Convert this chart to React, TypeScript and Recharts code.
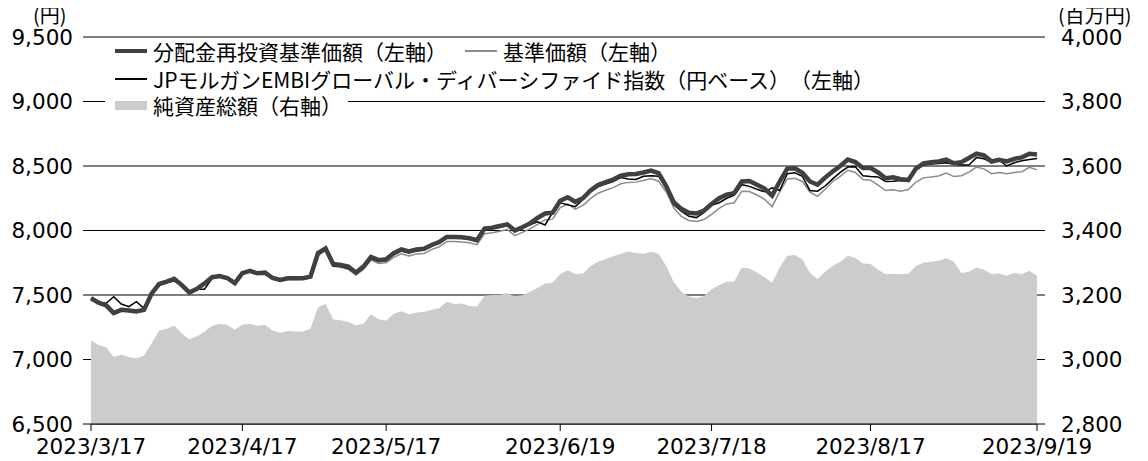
import { ComposedChart, Area, Line, XAxis, YAxis, CartesianGrid } from 'recharts'

const FONT = '"DejaVu Sans", "Noto Sans CJK JP", sans-serif'
const JP_FONT = '"Noto Sans CJK JP", sans-serif'

// Japanese business days 2023/3/17 - 2023/9/19
const START = '2023-03-17'
const END = '2023-09-19'
const HOLIDAYS = ['2023-03-21', '2023-05-03', '2023-05-04', '2023-05-05', '2023-07-17', '2023-08-11', '2023-09-18']

function businessDays() {
  const out: string[] = []
  const d = new Date(START + 'T00:00:00Z')
  const end = new Date(END + 'T00:00:00Z')
  while (d <= end) {
    const iso = d.toISOString().slice(0, 10)
    const wd = d.getUTCDay()
    if (wd !== 0 && wd !== 6 && !HOLIDAYS.includes(iso)) {
      out.push(`${d.getUTCFullYear()}/${d.getUTCMonth() + 1}/${d.getUTCDate()}`)
    }
    d.setUTCDate(d.getUTCDate() + 1)
  }
  return out
}

const DATES = businessDays()
const X_TICKS = ['2023/3/17', '2023/4/17', '2023/5/17', '2023/6/19', '2023/7/18', '2023/8/17', '2023/9/19']
const LEFT_TICKS = [6500, 7000, 7500, 8000, 8500, 9000, 9500]
const RIGHT_TICKS = [2800, 3000, 3200, 3400, 3600, 3800, 4000]

// 分配金再投資基準価額 (円)
const REINVEST = [
  7475, 7440, 7420, 7360, 7385, 7380, 7372, 7385, 7510, 7585,
  7603, 7625, 7577, 7520, 7548, 7590, 7638, 7647, 7632, 7592,
  7670, 7688, 7668, 7673, 7632, 7616, 7629, 7629, 7630, 7642,
  7825, 7860, 7740, 7733, 7720, 7675, 7720, 7795, 7770, 7777,
  7825, 7854, 7838, 7852, 7858, 7888, 7910, 7950, 7950, 7947,
  7940, 7925, 8015, 8022, 8035, 8048, 8000, 8025, 8055, 8097,
  8132, 8138, 8230, 8258, 8222, 8250, 8310, 8352, 8375, 8395,
  8425, 8436, 8438, 8450, 8465, 8445, 8345, 8220, 8168, 8138,
  8132, 8155, 8205, 8250, 8278, 8290, 8380, 8384, 8355, 8325,
  8270, 8380, 8480, 8483, 8448, 8380, 8355, 8410, 8458, 8500,
  8550, 8530, 8485, 8485, 8450, 8405, 8412, 8398, 8391, 8480,
  8520, 8530, 8535, 8550, 8522, 8530, 8562, 8595, 8582, 8535,
  8548, 8535, 8555, 8567, 8595, 8590,
]

// 基準価額 (円)
const NAV = [
  7472, 7437, 7417, 7357, 7382, 7377, 7369, 7382, 7507, 7582,
  7600, 7622, 7574, 7517, 7545, 7587, 7635, 7644, 7629, 7589,
  7662, 7680, 7660, 7665, 7624, 7608, 7621, 7621, 7622, 7634,
  7812, 7846, 7722, 7715, 7700, 7655, 7698, 7772, 7745, 7750,
  7792, 7820, 7802, 7818, 7822, 7852, 7874, 7914, 7914, 7911,
  7905, 7890, 7975, 7982, 7995, 8008, 7960, 7985, 8013, 8047,
  8082, 8088, 8178, 8205, 8165, 8195, 8247, 8289, 8312, 8332,
  8362, 8373, 8375, 8387, 8402, 8382, 8300, 8175, 8110, 8078,
  8070, 8085, 8125, 8172, 8206, 8215, 8305, 8302, 8275, 8242,
  8185, 8300, 8400, 8405, 8380, 8298, 8265, 8320, 8380, 8420,
  8467, 8450, 8395, 8390, 8352, 8310, 8316, 8305, 8318, 8375,
  8408, 8414, 8422, 8446, 8418, 8425, 8452, 8492, 8478, 8440,
  8450, 8440, 8450, 8456, 8490, 8470,
]

// JPモルガンEMBIグローバル・ディバーシファイド指数（円ベース）
const EMBI = [
  7475, 7440, 7436, 7487, 7430, 7409, 7448, 7397, 7500, 7577,
  7595, 7610, 7570, 7515, 7545, 7545, 7630, 7640, 7625, 7595,
  7660, 7680, 7660, 7665, 7625, 7612, 7625, 7625, 7625, 7640,
  7810, 7850, 7725, 7720, 7705, 7665, 7710, 7780, 7760, 7765,
  7812, 7840, 7825, 7840, 7850, 7880, 7900, 7940, 7942, 7940,
  7932, 7915, 8005, 8015, 8025, 8040, 7990, 8015, 8045, 8068,
  8043, 8140, 8215, 8200, 8185, 8240, 8300, 8340, 8360, 8380,
  8410, 8400, 8395, 8420, 8425, 8420, 8330, 8200, 8150, 8110,
  8100, 8140, 8195, 8215, 8250, 8275, 8355, 8342, 8320, 8300,
  8330, 8310, 8440, 8448, 8420, 8310, 8305, 8345, 8400, 8450,
  8492, 8495, 8425, 8418, 8415, 8380, 8382, 8388, 8386, 8470,
  8508, 8516, 8520, 8525, 8514, 8508, 8508, 8565, 8556, 8528,
  8545, 8500, 8525, 8540, 8550, 8558,
]

// 純資産総額 (百万円)
const ASSETS = [
  3060, 3045, 3038, 3008, 3015, 3008, 3004, 3012, 3050, 3090,
  3095, 3105, 3081, 3063, 3072, 3086, 3105, 3110, 3108, 3092,
  3108, 3110, 3105, 3107, 3090, 3083, 3088, 3087, 3087, 3095,
  3162, 3172, 3124, 3122, 3116, 3106, 3110, 3140, 3125, 3120,
  3142, 3150, 3140, 3146, 3147, 3154, 3159, 3179, 3172, 3174,
  3166, 3164, 3198, 3200, 3200, 3206, 3196, 3199, 3210, 3222,
  3236, 3238, 3265, 3277, 3264, 3267, 3290, 3303, 3312, 3320,
  3328, 3335, 3330, 3328, 3334, 3328, 3290, 3240, 3210, 3195,
  3190, 3197, 3218, 3230, 3241, 3242, 3285, 3282, 3270, 3255,
  3238, 3285, 3322, 3324, 3310, 3268, 3250, 3272, 3290, 3303,
  3322, 3315, 3298, 3296, 3278, 3264, 3266, 3264, 3266, 3290,
  3300, 3303, 3306, 3314, 3304, 3268, 3272, 3285, 3278, 3265,
  3267, 3260, 3268, 3264, 3275, 3260,
]

const data = DATES.map((date, i) => ({
  date,
  reinvest: REINVEST[i],
  nav: NAV[i],
  embi: EMBI[i],
  assets: ASSETS[i],
}))

const fmt = (v: number) => v.toLocaleString('en-US')
const tickStyle = { fontSize: 21.5, fill: '#000', fontFamily: FONT }

function LegendItem({ left, top, children, bg }: { left: number; top: number; children: any; bg?: boolean }) {
  return (
    <div
      style={{
        position: 'absolute',
        left,
        top,
        height: 24,
        lineHeight: '24px',
        display: 'flex',
        alignItems: 'center',
        background: bg ? '#fff' : 'transparent',
        paddingRight: 6,
        whiteSpace: 'nowrap',
      }}
    >
      {children}
    </div>
  )
}

function Swatch({ kind }: { kind: 'thick' | 'thin' | 'grey' | 'area' }) {
  const base = { width: 32, marginLeft: 10, marginRight: 6 }
  if (kind === 'area') return <div style={{ ...base, height: 9, background: '#cccccc' }} />
  const h = kind === 'thick' ? 4.5 : 1.5
  const c = kind === 'thick' ? '#404040' : kind === 'grey' ? '#8c8c8c' : '#000'
  return <div style={{ ...base, height: h, background: c }} />
}

export default function App() {
  return (
    <div style={{ position: 'relative', width: 1132, height: 453, fontFamily: JP_FONT }}>
      <ComposedChart width={1132} height={453} data={data} margin={{ top: 29, right: 0, bottom: 8, left: 0 }}>
        <CartesianGrid yAxisId="left" vertical={false} stroke="#000" strokeWidth={1} />
        <Area
          yAxisId="right"
          dataKey="assets"
          type="linear"
          fill="#cccccc"
          fillOpacity={1}
          stroke="none"
          isAnimationActive={false}
        />
        <Line yAxisId="left" dataKey="nav" type="linear" stroke="#8c8c8c" strokeWidth={1.5} dot={false} isAnimationActive={false} />
        <Line yAxisId="left" dataKey="embi" type="linear" stroke="#000" strokeWidth={1.5} dot={false} isAnimationActive={false} />
        <Line yAxisId="left" dataKey="reinvest" type="linear" stroke="#404040" strokeWidth={4.5} dot={false} isAnimationActive={false} />
        <XAxis
          dataKey="date"
          scale="point"
          ticks={X_TICKS}
          interval={0}
          height={29}
          tickSize={7}
          tickMargin={8}
          tick={tickStyle}
          axisLine={{ stroke: '#000' }}
          tickLine={{ stroke: '#000' }}
        />
        <YAxis
          yAxisId="left"
          domain={[6500, 9500]}
          ticks={LEFT_TICKS}
          width={83}
          tickSize={8}
          tickMargin={10}
          axisLine={false}
          tickLine={{ stroke: '#000' }}
          tick={tickStyle}
          tickFormatter={fmt}
        />
        <YAxis
          yAxisId="right"
          orientation="right"
          domain={[2800, 4000]}
          ticks={RIGHT_TICKS}
          width={103}
          tickSize={8}
          tickMargin={16}
          axisLine={false}
          tickLine={{ stroke: '#000' }}
          tick={tickStyle}
          tickFormatter={fmt}
        />
      </ComposedChart>

      <div style={{ position: 'absolute', left: 25, top: -5, fontSize: 20, lineHeight: '24px' }}>(円)</div>
      <div style={{ position: 'absolute', left: 1050, top: -5, fontSize: 20, lineHeight: '24px' }}>(百万円)</div>

      <div style={{ fontSize: 21, color: '#000' }}>
        <LegendItem left={97} top={31}>
          <Swatch kind="thick" />
          <span>分配金再投資基準価額（左軸）</span>
        </LegendItem>
        <LegendItem left={447} top={31}>
          <Swatch kind="grey" />
          <span>基準価額（左軸）</span>
        </LegendItem>
        <LegendItem left={97} top={59}>
          <Swatch kind="thin" />
          <span>JPモルガンEMBIグローバル・ディバーシファイド指数（円ベース）　（左軸）</span>
        </LegendItem>
        <LegendItem left={97} top={85} bg>
          <Swatch kind="area" />
          <span>純資産総額（右軸）</span>
        </LegendItem>
      </div>
    </div>
  )
}
